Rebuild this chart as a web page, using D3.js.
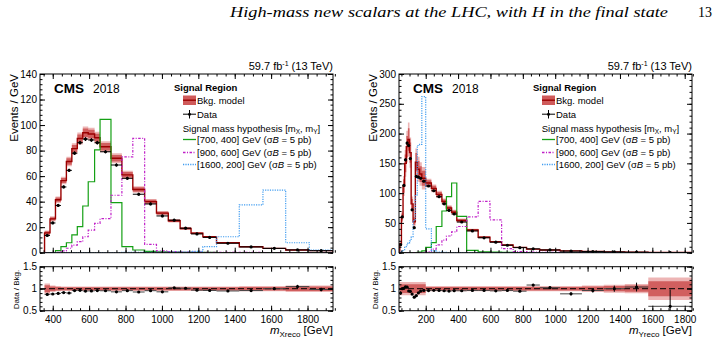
<!DOCTYPE html>
<meta charset="utf-8">
<style>
body { margin: 0; background: #fff; }
svg text { font-family: "Liberation Sans", Arial, sans-serif; }
</style>
<body>
<script src="https://cdn.jsdelivr.net/npm/d3@7"></script>
<script>

// ---- left panel: m_Xreco ----
var edgesX = [355, 385, 415, 445, 475, 505, 535, 565, 595, 630, 660, 720, 780, 840, 905, 970, 1035, 1100, 1160, 1225, 1300, 1425, 1555, 1680, 1810, 1940];
var bkgX = [15.5, 26.5, 41.5, 56.5, 71.5, 81.5, 89.5, 94, 93, 90, 83, 74, 61, 49.5, 40, 31, 25, 19, 15.2, 12.5, 7.8, 4.7, 3.4, 2.1, 1.6];
var dataX = [13.5, 23.3, 37, 51.5, 64.5, 78, 86.2, 89, 88.3, 86.2, 79.1, 68.7, 58.3, 45.8, 38.2, 28.8, 25.5, 19.2, 14.7, 12, 7.4, 4.5, 3.4, 2.2, 1.57];
var errX = [0.02, 0.015, 0.012, 0.01, 0.01, 0.01, 0.01, 0.01, 0.01, 0.01, 0.008, 0.01, 0.01, 0.012, 0.012, 0.014, 0.015, 0.018, 0.02, 0.02, 0.02, 0.025, 0.03, 0.04, 0.04];
var uncX = [0.08, 0.05, 0.04, 0.035, 0.035, 0.035, 0.035, 0.035, 0.035, 0.035, 0.035, 0.035, 0.035, 0.035, 0.035, 0.035, 0.035, 0.035, 0.035, 0.035, 0.035, 0.04, 0.04, 0.05, 0.05];
var sig700X = [0, 0, 1.6, 4.7, 7.8, 13.9, 20.4, 36.6, 55.6, 80.5, 104.5, 39.2, 4.7, 2.1, 1, 0.6, 0.4, 0.3, 0.2, 0.2, 0.1, 0.1, 0.1, 0, 0];
var sig900X = [0, 0, 0.3, 1.5, 3.5, 6, 8.6, 12.5, 17.7, 22.9, 26.7, 45, 75, 89.6, 6.5, 1.5, 0.8, 0.5, 0.4, 0.3, 0.2, 0.2, 0.1, 0.1, 0];
var sig1600X = [0, 0, 0, 0, 0, 0, 0, 0, 0, 0, 0.1, 0.1, 0.2, 0.2, 0.3, 0.3, 0.4, 0.5, 1, 4.7, 12.5, 37.4, 49.1, 7.8, 2];

// ---- right panel: m_Yreco ----
var edgesY = [40, 50, 60, 70, 80, 90, 100, 110, 122, 136, 148, 162, 176, 200, 235, 265, 300, 328, 360, 392, 453, 524, 597, 669, 740, 823, 905, 1030, 1165, 1300, 1430, 1575, 1845];
var bkgY = [15, 60, 112, 150, 178, 190, 168, 82, 52, 152, 140, 132, 125, 117, 108, 98, 86, 75, 68, 54, 38, 26, 18.5, 13, 9, 6, 4.5, 3, 2, 1.3, 0.8, 0.35];
var dataY = [13.5, 60, 113, 156, 184, 180, 158, 72, 42, 128, 127, 125, 120, 112, 104, 94, 82, 71, 65, 51.5, 36.5, 25, 17.6, 12.5, 8.5, 6.5, 4.6, 2.65, 1.92, 1.3, 0.83, 0.21];
var errY = [0.04, 0.02, 0.015, 0.012, 0.011, 0.011, 0.012, 0.02, 0.025, 0.013, 0.012, 0.012, 0.01, 0.008, 0.009, 0.009, 0.01, 0.011, 0.012, 0.01, 0.012, 0.014, 0.017, 0.02, 0.022, 0.025, 0.03, 0.035, 0.05, 0.07, 0.1, 0.38];
var uncY = [0.1, 0.1, 0.1, 0.1, 0.1, 0.1, 0.1, 0.1, 0.1, 0.1, 0.1, 0.1, 0.1, 0.04, 0.04, 0.04, 0.04, 0.04, 0.04, 0.04, 0.04, 0.04, 0.04, 0.04, 0.04, 0.04, 0.04, 0.04, 0.05, 0.06, 0.07, 0.17];
var sig700Y = [0, 0, 0, 0, 0, 0, 0, 0, 0, 0, 0.5, 1, 3, 9, 17, 44, 70, 94, 117, 61, 4, 1.5, 1, 0.5, 0.3, 0.2, 0.1, 0, 0, 0, 0, 0];
var sig900Y = [0, 0, 0, 0, 0, 0, 0, 0, 0, 0, 0, 0, 0, 2, 6, 13, 21, 28, 35, 44, 60, 86, 55, 7, 2, 1, 0.5, 0.3, 0.2, 0.1, 0.1, 0];
var sig1600Y = [0, 2, 5, 9, 13, 16, 20, 26, 54, 97, 180, 182, 262, 40, 3, 1, 0.5, 0.3, 0.2, 0.2, 0.1, 0.1, 0, 0, 0, 0, 0, 0, 0, 0, 0, 0];

// ---- ticks ----
var xMajorX = [400, 600, 800, 1000, 1200, 1400, 1600, 1800];
var xMajorY = [200, 400, 600, 800, 1000, 1200, 1400, 1600, 1800];
var yMajorX = [0, 20, 40, 60, 80, 100, 120, 140];
var yMajorY = [0, 50, 100, 150, 200, 250, 300];
var ratioMajor = [0.5, 1, 1.5];

var legendRows = ["[700, 400]", "[900, 600]", "[1600, 200]"];

var width = 719, height = 345;
var svg = d3.select("body").append("svg").attr("width", width).attr("height", height);

// page header
svg.append("text").attr("x", 230).attr("y", 17)
    .style("font-family", "'Liberation Serif', 'DejaVu Serif', serif")
    .style("font-style", "italic").style("font-size", "14px")
    .attr("textLength", 438).attr("lengthAdjust", "spacingAndGlyphs")
    .text("High-mass new scalars at the LHC, with H in the final state");
svg.append("text").attr("x", 712).attr("y", 17).attr("text-anchor", "end")
    .style("font-family", "'Liberation Serif', 'DejaVu Serif', serif")
    .style("font-size", "14px").text("13");

var sigStyles = [
    {color: "#14a014", dash: null},
    {color: "#c020c8", dash: "2.5,1.5,1,1.5"},
    {color: "#3f9cf0", dash: "1.2,1.2"}
];

function range(a, b, s) {
    return d3.range(a, b + s / 2, s);
}

function axes(g, x, y, top, bottom, left, right, xMaj, xMin, yMaj, yMin, xLabels, yFmt, fs, tl) {
    function clean(a) {
        a.select(".domain").remove();
        a.attr("font-family", null).attr("font-size", fs);
    }
    g.append("g").attr("transform", "translate(" + left + ",0)")
        .call(d3.axisLeft(y).tickValues(yMaj).tickSize(-tl).tickPadding(3).tickFormat(yFmt)).call(clean);
    g.append("g").attr("transform", "translate(" + left + ",0)")
        .call(d3.axisLeft(y).tickValues(yMin).tickSize(-tl / 2).tickFormat("")).call(clean);
    g.append("g").attr("transform", "translate(" + right + ",0)")
        .call(d3.axisRight(y).tickValues(yMaj).tickSize(-tl).tickFormat("")).call(clean);
    g.append("g").attr("transform", "translate(" + right + ",0)")
        .call(d3.axisRight(y).tickValues(yMin).tickSize(-tl / 2).tickFormat("")).call(clean);
    g.append("g").attr("transform", "translate(0," + bottom + ")")
        .call(d3.axisBottom(x).tickValues(xMaj).tickSize(-tl).tickPadding(5).tickFormat(xLabels ? d3.format("d") : "")).call(clean);
    g.append("g").attr("transform", "translate(0," + bottom + ")")
        .call(d3.axisBottom(x).tickValues(xMin).tickSize(-tl / 2).tickFormat("")).call(clean);
    g.append("g").attr("transform", "translate(0," + top + ")")
        .call(d3.axisTop(x).tickValues(xMaj).tickSize(-tl).tickFormat("")).call(clean);
    g.append("g").attr("transform", "translate(0," + top + ")")
        .call(d3.axisTop(x).tickValues(xMin).tickSize(-tl / 2).tickFormat("")).call(clean);
    g.append("rect").attr("x", left).attr("y", top).attr("width", right - left).attr("height", bottom - top)
        .attr("fill", "none").attr("stroke", "#000").attr("stroke-width", 1);
}

function stepPoints(edges, vals) {
    var pts = [[edges[0], 0]];
    vals.forEach(function(v, i) {
        pts.push([edges[i], v]);
        pts.push([edges[i + 1], v]);
    });
    pts.push([edges[edges.length - 1], 0]);
    return pts;
}

function bandPoints(edges, vals, unc, k) {
    var pts = [];
    vals.forEach(function(v, i) {
        var d = v * unc[i] * k;
        pts.push({x: edges[i], lo: v - d, hi: v + d});
        pts.push({x: edges[i + 1], lo: v - d, hi: v + d});
    });
    return pts;
}

function panel(p) {
    var L = p.left, R = p.left + 293;
    var top = 74, bottom = 252.7, rTop = 266.7, rBottom = 310.7;
    var g = svg.append("g");

    var x = d3.scaleLinear().domain(p.xDomain).range([L, R]);
    var y = d3.scaleLinear().domain(p.yDomain).range([bottom, top]);
    var yr = d3.scaleLinear().domain([0.5, 1.5]).range([rBottom, rTop]);

    var clipId = "clip" + p.id;
    svg.append("clipPath").attr("id", clipId + "m").append("rect")
        .attr("x", L).attr("y", top).attr("width", R - L).attr("height", bottom - top);
    svg.append("clipPath").attr("id", clipId + "r").append("rect")
        .attr("x", L).attr("y", rTop).attr("width", R - L).attr("height", rBottom - rTop);

    var main = g.append("g").attr("clip-path", "url(#" + clipId + "m)");
    var rat = g.append("g").attr("clip-path", "url(#" + clipId + "r)");

    var area = d3.area().x(function(d) { return x(d.x); })
        .y0(function(d) { return y(d.lo); }).y1(function(d) { return y(d.hi); });
    var line = d3.line().x(function(d) { return x(d[0]); }).y(function(d) { return y(d[1]); });

    // background model band
    main.append("path").datum(bandPoints(p.edges, p.bkg, p.unc, 1.5)).attr("d", area)
        .attr("fill", "#e9a3a3").attr("opacity", 0.8);
    main.append("path").datum(bandPoints(p.edges, p.bkg, p.unc, 1)).attr("d", area)
        .attr("fill", "#c94a4a").attr("opacity", 0.8);
    main.append("path").datum(stepPoints(p.edges, p.bkg)).attr("d", line)
        .attr("fill", "none").attr("stroke", "#9a0000").attr("stroke-width", 1.4);

    // signals
    p.sigs.forEach(function(s, i) {
        main.append("path").datum(stepPoints(p.edges, s)).attr("d", line)
            .attr("fill", "none").attr("stroke", sigStyles[i].color).attr("stroke-width", 1.2)
            .attr("stroke-dasharray", sigStyles[i].dash);
    });

    // data
    var bins = p.data.map(function(v, i) {
        return {x0: p.edges[i], x1: p.edges[i + 1], v: v, e: p.err[i], b: p.bkg[i]};
    });
    var dg = main.append("g").attr("stroke", "#000").attr("stroke-width", 1);
    bins.forEach(function(d) {
        var xc = x((d.x0 + d.x1) / 2);
        dg.append("line").attr("x1", x(d.x0)).attr("x2", x(d.x1)).attr("y1", y(d.v)).attr("y2", y(d.v));
        dg.append("line").attr("x1", xc).attr("x2", xc).attr("y1", y(d.v * (1 - d.e) - 0.6)).attr("y2", y(d.v * (1 + d.e) + 0.6));
        dg.append("circle").attr("cx", xc).attr("cy", y(d.v)).attr("r", 1.6).attr("fill", "#000").attr("stroke", "none");
    });

    // ratio panel
    var rArea = d3.area().x(function(d) { return x(d.x); })
        .y0(function(d) { return yr(1 - d.u); }).y1(function(d) { return yr(1 + d.u); });
    var rb = [], rb2 = [];
    p.unc.forEach(function(u, i) {
        rb.push({x: p.edges[i], u: u}); rb.push({x: p.edges[i + 1], u: u});
        rb2.push({x: p.edges[i], u: u * 1.5}); rb2.push({x: p.edges[i + 1], u: u * 1.5});
    });
    rat.append("path").datum(rb2).attr("d", rArea).attr("fill", "#e9a3a3").attr("opacity", 0.8);
    rat.append("path").datum(rb).attr("d", rArea).attr("fill", "#c94a4a").attr("opacity", 0.8);
    rat.append("line").attr("x1", L).attr("x2", R).attr("y1", yr(1)).attr("y2", yr(1))
        .attr("stroke", "#000").attr("stroke-width", 1).attr("stroke-dasharray", "6,3");
    var rg = rat.append("g").attr("stroke-width", 1);
    bins.forEach(function(d) {
        var r = d.v / d.b, xc = x((d.x0 + d.x1) / 2);
        rg.append("line").attr("x1", x(d.x0)).attr("x2", x(d.x1)).attr("y1", yr(r)).attr("y2", yr(r)).attr("stroke", "#444");
        rg.append("line").attr("x1", xc).attr("x2", xc).attr("y1", yr(r - d.e)).attr("y2", yr(r + d.e)).attr("stroke", "#000");
        rg.append("circle").attr("cx", xc).attr("cy", yr(r)).attr("r", 1.6).attr("fill", "#000");
    });

    // axes
    axes(g, x, y, top, bottom, L, R, p.xMajor, range(p.xMinorStart, p.xDomain[1], 50),
        p.yMajor, range(p.yDomain[0], p.yDomain[1], p.yMinorStep), false, d3.format("d"), 10, 5);
    axes(g, x, yr, rTop, rBottom, L, R, p.xMajor, range(p.xMinorStart, p.xDomain[1], 50),
        ratioMajor, range(0.5, 1.5, 0.1), true, function(d) { return d === 1 ? "1" : d; }, 10, 5);

    // axis titles
    g.append("text").attr("transform", "translate(" + (L - 22) + "," + top + ") rotate(-90)")
        .attr("text-anchor", "end").style("font-size", "11.5px").text("Events / GeV");
    g.append("text").attr("transform", "translate(" + (L - 21) + "," + (rTop + 3) + ") rotate(-90)")
        .attr("text-anchor", "end").style("font-size", "8px").text("Data / Bkg.");
    var xt = g.append("text").attr("x", R).attr("y", 334).attr("text-anchor", "end").style("font-size", "11.5px");
    xt.append("tspan").style("font-style", "italic").text("m");
    xt.append("tspan").attr("dy", 3).style("font-size", "8px").text(p.sub);
    xt.append("tspan").attr("dy", -3).text(" [GeV]");

    // lumi + CMS
    var lumi = g.append("text").attr("x", R).attr("y", 69.5).attr("text-anchor", "end").style("font-size", "11px");
    lumi.append("tspan").text("59.7 fb");
    lumi.append("tspan").attr("dy", -4).style("font-size", "7px").text("-1");
    lumi.append("tspan").attr("dy", 4).text(" (13 TeV)");
    g.append("text").attr("x", L + 14).attr("y", 93).style("font-size", "13.5px").style("font-weight", "bold").text("CMS");
    g.append("text").attr("x", L + 53).attr("y", 93).style("font-size", "12px").text("2018");

    // legend
    var lx = L + 134;
    g.append("text").attr("x", lx).attr("y", 90.5).style("font-size", "9.5px").style("font-weight", "bold").text("Signal Region");
    g.append("rect").attr("x", lx + 9).attr("y", 95.5).attr("width", 13).attr("height", 9.5).attr("fill", "#cf5a5a");
    g.append("line").attr("x1", lx + 9).attr("x2", lx + 22).attr("y1", 100.2).attr("y2", 100.2).attr("stroke", "#9a0000").attr("stroke-width", 1.4);
    g.append("text").attr("x", lx + 23).attr("y", 103.7).style("font-size", "9.5px").text("Bkg. model");
    g.append("line").attr("x1", lx + 9).attr("x2", lx + 22).attr("y1", 114.2).attr("y2", 114.2).attr("stroke", "#000");
    g.append("line").attr("x1", lx + 15.5).attr("x2", lx + 15.5).attr("y1", 110).attr("y2", 118.5).attr("stroke", "#000");
    g.append("circle").attr("cx", lx + 15.5).attr("cy", 114.2).attr("r", 1.5).attr("fill", "#000");
    g.append("text").attr("x", lx + 23).attr("y", 117.7).style("font-size", "9.5px").text("Data");
    var sm = g.append("text").attr("x", lx + 8.7).attr("y", 131.5).style("font-size", "9.5px");
    sm.append("tspan").text("Signal mass hypothesis [m");
    sm.append("tspan").attr("dy", 2.5).style("font-size", "6.5px").text("X");
    sm.append("tspan").attr("dy", -2.5).text(", m");
    sm.append("tspan").attr("dy", 2.5).style("font-size", "6.5px").text("Y");
    sm.append("tspan").attr("dy", -2.5).text("]");
    var rowY = [139.5, 152.5, 164.5];
    legendRows.forEach(function(lbl, i) {
        g.append("line").attr("x1", lx + 9).attr("x2", lx + 22).attr("y1", rowY[i]).attr("y2", rowY[i])
            .attr("stroke", sigStyles[i].color).attr("stroke-width", 1.3).attr("stroke-dasharray", sigStyles[i].dash);
        var t = g.append("text").attr("x", lx + 23).attr("y", rowY[i] + 3.5).style("font-size", "9.5px");
        t.append("tspan").text(lbl + " GeV (\u03C3");
        t.append("tspan").style("font-style", "italic").text("B");
        t.append("tspan").text(" = 5 pb)");
    });
}

panel({
    id: "x", left: 40, xDomain: [330, 1940], yDomain: [0, 140], yMinorStep: 4, xMinorStart: 350,
    edges: edgesX, bkg: bkgX, data: dataX, err: errX, unc: uncX,
    sigs: [sig700X, sig900X, sig1600X], xMajor: xMajorX, yMajor: yMajorX, sub: "Xreco"
});
panel({
    id: "y", left: 399, xDomain: [35, 1845], yDomain: [0, 300], yMinorStep: 10, xMinorStart: 50,
    edges: edgesY, bkg: bkgY, data: dataY, err: errY, unc: uncY,
    sigs: [sig700Y, sig900Y, sig1600Y], xMajor: xMajorY, yMajor: yMajorY, sub: "Yreco"
});

</script>
